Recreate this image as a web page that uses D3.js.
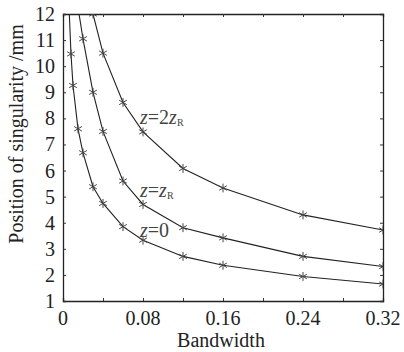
<!DOCTYPE html>
<html>
<head>
<meta charset="utf-8">
<script src="https://cdn.jsdelivr.net/npm/d3@7"></script>
<style>
  body { margin: 0; background: #fff; }
</style>
</head>
<body>
<div id="chart"></div>
<script>
// bandwidth values for each curve
var bwZero = [0.005, 0.008, 0.01, 0.015, 0.02, 0.03, 0.04, 0.06, 0.08, 0.12, 0.16, 0.24, 0.32];
var posZero = [13.2, 10.47, 9.26, 7.6, 6.68, 5.38, 4.74, 3.85, 3.33, 2.71, 2.37, 1.94, 1.65];

var bwR = [0.015, 0.02, 0.03, 0.04, 0.06, 0.08, 0.12, 0.16, 0.24, 0.32];
var posR = [12.25, 11.05, 9.0, 7.5, 5.6, 4.7, 3.81, 3.42, 2.71, 2.32];

var bw2R = [0.03, 0.04, 0.06, 0.08, 0.12, 0.16, 0.24, 0.32];
var pos2R = [12.0, 10.5, 8.61, 7.48, 6.08, 5.33, 4.3, 3.72];

var xTickLabels = [0, 0.08, 0.16, 0.24, 0.32];
var yTickLabels = [1, 2, 3, 4, 5, 6, 7, 8, 9, 10, 11, 12];

var series = [
    { name: "zero", x: bwZero, y: posZero },
    { name: "zR", x: bwR, y: posR },
    { name: "2zR", x: bw2R, y: pos2R }
];

var W = 404, H = 352;
var margin = { left: 63, right: 21, top: 14, bottom: 51 };
var width = W - margin.left - margin.right;
var height = H - margin.top - margin.bottom;
var serif = "'Liberation Serif'";

var x = d3.scaleLinear().domain([0, 0.32]).range([0, width]);
var y = d3.scaleLinear().domain([1, 12]).range([height, 0]);

var svg = d3.select("#chart").append("svg")
    .attr("width", W)
    .attr("height", H);

svg.append("defs").append("clipPath")
    .attr("id", "plotclip")
    .append("rect")
    .attr("width", width)
    .attr("height", height);

var g = svg.append("g")
    .attr("transform", "translate(" + margin.left + "," + margin.top + ")");

// frame with inward ticks on all four sides
function boxAxis(sel, axis) {
    sel.call(axis);
    sel.select(".domain").attr("stroke", "#222").attr("stroke-width", 1.3);
    sel.selectAll(".tick line").attr("stroke", "#333");
}

var xMinor = d3.range(0, 0.3201, 0.04);

g.append("g")
    .attr("transform", "translate(0," + height + ")")
    .call(boxAxis, d3.axisBottom(x).tickValues(xMinor).tickSize(-3).tickFormat(""));
g.append("g")
    .call(boxAxis, d3.axisTop(x).tickValues(xMinor).tickSize(-3).tickFormat(""));
g.append("g")
    .call(boxAxis, d3.axisLeft(y).tickValues(yTickLabels).tickSize(-3).tickFormat(""));
g.append("g")
    .attr("transform", "translate(" + width + ",0)")
    .call(boxAxis, d3.axisRight(y).tickValues(yTickLabels).tickSize(-3).tickFormat(""));

// tick labels
g.selectAll(".xlab")
    .data(xTickLabels)
    .enter().append("text")
    .attr("class", "xlab")
    .attr("x", function(d) { return x(d); })
    .attr("y", height + 24)
    .attr("text-anchor", "middle")
    .attr("fill", "#222")
    .style("font-family", serif)
    .style("font-size", "20px")
    .text(function(d) { return d === 0 ? "0" : d.toFixed(2); });

g.selectAll(".ylab")
    .data(yTickLabels)
    .enter().append("text")
    .attr("class", "ylab")
    .attr("x", -8)
    .attr("y", function(d) { return y(d); })
    .attr("dy", "0.35em")
    .attr("text-anchor", "end")
    .attr("fill", "#222")
    .style("font-family", serif)
    .style("font-size", "20px")
    .text(function(d) { return d; });

svg.append("text")
    .attr("x", 221)
    .attr("y", 347)
    .attr("text-anchor", "middle")
    .attr("fill", "#222")
    .style("font-family", serif)
    .style("font-size", "20px")
    .text("Bandwidth");

svg.append("text")
    .attr("transform", "translate(23,134) rotate(-90)")
    .attr("text-anchor", "middle")
    .attr("fill", "#222")
    .style("font-family", serif)
    .style("font-size", "20px")
    .text("Position of singularity /mm");

// curves
var line = d3.line()
    .x(function(d) { return x(d[0]); })
    .y(function(d) { return y(d[1]); });

var plot = g.append("g").attr("clip-path", "url(#plotclip)");

var star = d3.symbol().type(d3.symbolAsterisk).size(55);

series.forEach(function(s) {
    var pts = s.x.map(function(v, i) { return [v, s.y[i]]; });

    plot.append("path")
        .datum(pts)
        .attr("fill", "none")
        .attr("stroke", "#222")
        .attr("stroke-width", 1.1)
        .attr("d", line);

    plot.selectAll(".pt-" + s.name)
        .data(pts)
        .enter().append("path")
        .attr("class", "pt-" + s.name)
        .attr("transform", function(d) { return "translate(" + x(d[0]) + "," + y(d[1]) + ")"; })
        .attr("d", star)
        .attr("fill", "none")
        .attr("stroke", "#444")
        .attr("stroke-width", 1);
});

// curve labels
function curveLabel(px, py, parts) {
    var t = svg.append("text")
        .attr("x", px)
        .attr("y", py)
        .attr("fill", "#444")
        .style("font-family", serif)
        .style("font-size", "20px");
    parts.forEach(function(p) {
        var ts = t.append("tspan").text(p.t);
        if (p.it) ts.style("font-style", "italic");
        if (p.sub) ts.style("font-size", "10px").attr("dy", 2);
    });
}

curveLabel(140, 124, [{ t: "z", it: true }, { t: "=2" }, { t: "z", it: true }, { t: "R", sub: true }]);
curveLabel(140, 197, [{ t: "z", it: true }, { t: "=" }, { t: "z", it: true }, { t: "R", sub: true }]);
curveLabel(140, 237, [{ t: "z", it: true }, { t: "=0" }]);
</script>
</body>
</html>
